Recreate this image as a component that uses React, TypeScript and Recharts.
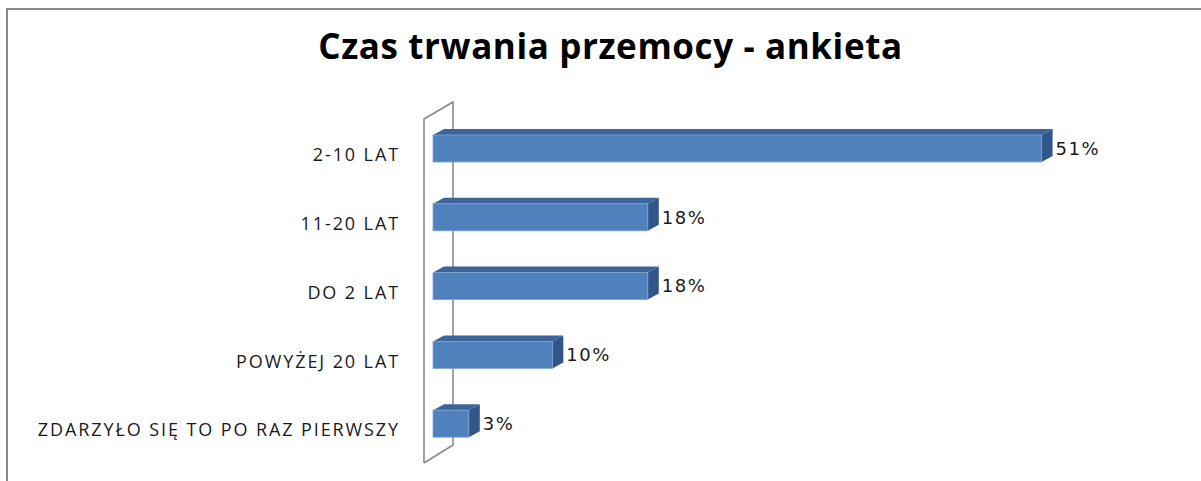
import React from 'react';
import { BarChart, Bar, XAxis, YAxis, LabelList } from 'recharts';

const categories = ['2-10 LAT', '11-20 LAT', 'DO 2 LAT', 'POWYŻEJ 20 LAT', 'ZDARZYŁO SIĘ TO PO RAZ PIERWSZY'];
const shares = [51, 18, 18, 10, 3];

const data = categories.map((name, i) => ({ name, value: shares[i] }));

const W = 1201;
const H = 481;
const PLOT_LEFT = 433;
const PLOT_TOP = 114;
const PLOT_BOTTOM = 458;
const DX = 11;
const DY = 6;

// 3D-ish bar like the old Excel style: front face, top face and right side
const Bar3D = (props: any) => {
  const { x, y, width, height } = props;
  if (width == null || height == null) return null;
  const top = `${x},${y} ${x + DX},${y - DY} ${x + width + DX},${y - DY} ${x + width},${y}`;
  const side = `${x + width},${y} ${x + width + DX},${y - DY} ${x + width + DX},${y + height - DY} ${x + width},${y + height}`;
  return (
    <g>
      <polygon points={top} fill="#3c659a" />
      <polygon points={side} fill="#31578a" />
      <rect x={x} y={y} width={width} height={height} fill="#4f81bd" stroke="#7fa3d0" strokeWidth={0.8} />
    </g>
  );
};

const CategoryTick = (props: any) => {
  const { x, y, payload } = props;
  return (
    <text x={x} y={y + 8} textAnchor="end" dominantBaseline="middle" fontFamily="'Open Sans', sans-serif" fontSize={18} letterSpacing={1.9} fill="#1a1a1a">
      {payload.value}
    </text>
  );
};

const App: React.FC = () => {
  return (
    <div style={{ position: 'relative', width: W, height: H, background: '#fff', overflow: 'hidden' }}>
      <style>{'body{margin:0}'}</style>
      {/* frame */}
      <div style={{ position: 'absolute', left: 6, top: 8, width: W - 6, height: 2, background: '#888' }} />
      <div style={{ position: 'absolute', left: 6, top: 8, width: 2, height: H - 8, background: '#888' }} />
      {/* title */}
      <div style={{ position: 'absolute', left: 20, top: 28, width: W - 20, textAlign: 'center', fontFamily: "'Open Sans', sans-serif", fontWeight: 700, fontSize: 35, lineHeight: '35px', letterSpacing: 0.6, color: '#000' }}>
        Czas trwania przemocy - ankieta
      </div>
      {/* side wall, sits behind the bars */}
      <svg style={{ position: 'absolute', left: 0, top: 0 }} width={W} height={H}>
        <polyline
          points={`${PLOT_LEFT - 9},${PLOT_BOTTOM + 5} ${PLOT_LEFT - 9},${PLOT_TOP + 5} ${PLOT_LEFT + 20},${PLOT_TOP - 12} ${PLOT_LEFT + 20},${PLOT_BOTTOM - 13} ${PLOT_LEFT - 9},${PLOT_BOTTOM + 5}`}
          fill="none"
          stroke="#8a8a8a"
          strokeWidth={1.6}
        />
      </svg>
      <div style={{ position: 'absolute', left: 0, top: 0 }}>
        <BarChart
          width={W}
          height={H}
          data={data}
          layout="vertical"
          margin={{ top: PLOT_TOP, right: 52, bottom: H - PLOT_BOTTOM, left: 0 }}
          barCategoryGap={0}
        >
          <XAxis type="number" domain={[0, 60]} hide />
          <YAxis
            type="category"
            dataKey="name"
            width={PLOT_LEFT}
            axisLine={false}
            tickLine={false}
            tickSize={0}
            tickMargin={33}
            interval={0}
            tick={<CategoryTick />}
          />
          <Bar dataKey="value" barSize={27} shape={<Bar3D />} isAnimationActive={false}>
            <LabelList
              dataKey="value"
              position="right"
              offset={14}
              formatter={(v: any) => `${v}%`}
              style={{ fontFamily: "'DejaVu Sans', sans-serif", fontSize: 18, letterSpacing: 1.5, fill: '#1a1a1a' }}
            />
          </Bar>
        </BarChart>
      </div>
    </div>
  );
};

export default App;
